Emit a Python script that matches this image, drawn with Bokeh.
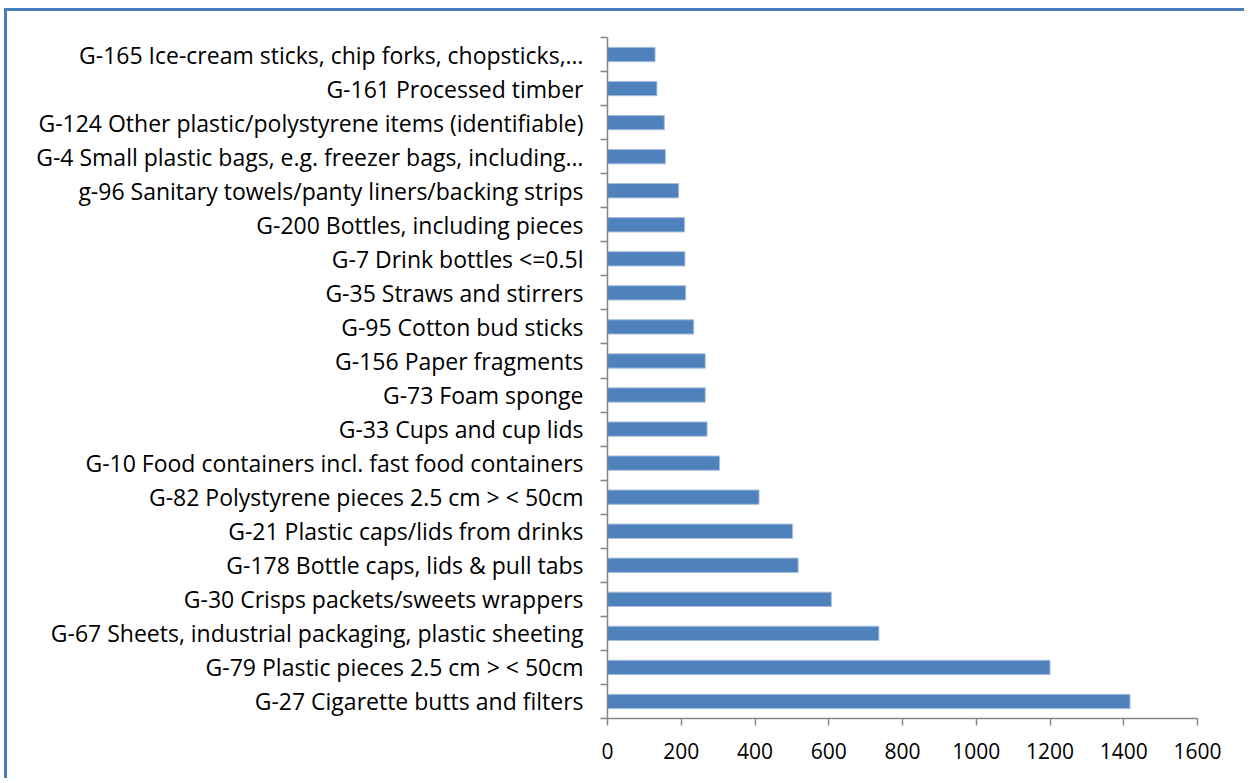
from bokeh.plotting import figure
from bokeh.models import Range1d, FixedTicker, ColumnDataSource
from bokeh.embed import file_html
from bokeh.resources import INLINE

# categories listed bottom to top
categories = [
    "G-27 Cigarette butts and filters",
    "G-79 Plastic pieces 2.5 cm > < 50cm",
    "G-67 Sheets, industrial packaging, plastic sheeting",
    "G-30 Crisps packets/sweets wrappers",
    "G-178 Bottle caps, lids & pull tabs",
    "G-21 Plastic caps/lids from drinks",
    "G-82 Polystyrene pieces 2.5 cm > < 50cm",
    "G-10 Food containers incl. fast food containers",
    "G-33 Cups and cup lids",
    "G-73 Foam sponge",
    "G-156 Paper fragments",
    "G-95 Cotton bud sticks",
    "G-35 Straws and stirrers",
    "G-7 Drink bottles <=0.5l",
    "G-200 Bottles, including pieces",
    "g-96 Sanitary towels/panty liners/backing strips",
    "G-4 Small plastic bags, e.g. freezer bags, including\u2026",
    "G-124 Other plastic/polystyrene items (identifiable)",
    "G-161 Processed timber",
    "G-165 Ice-cream sticks, chip forks, chopsticks,\u2026",
]
counts = [1417, 1200, 736, 607, 517, 502, 411, 304, 270, 265,
          265, 234, 212, 210, 209, 193, 157, 154, 134, 129]
x_ticks = [0, 200, 400, 600, 800, 1000, 1200, 1400, 1600]

positions = list(range(len(categories)))
source = ColumnDataSource(dict(y=positions, right=counts, name=categories))

FONT = "Open Sans"
AXIS_COLOR = "#868686"
BAR_COLOR = "#4f81bd"
BORDER_COLOR = "#4a7ebb"

p = figure(width=1240, height=770, output_backend="svg", toolbar_location=None,
           x_range=Range1d(0, 1600), y_range=Range1d(-0.5, len(categories) - 0.5),
           min_border_left=600, min_border_top=26, min_border_bottom=63,
           min_border_right=50, outline_line_color=None, margin=(8, 0, 0, 4))
p.styles = {"border-left": f"3px solid {BORDER_COLOR}",
            "border-top": f"3px solid {BORDER_COLOR}"}

p.hbar(y="y", left=0, right="right", height=0.42, source=source,
       fill_color=BAR_COLOR, line_color="#a7bfdd", line_width=1)

p.xgrid.visible = False
p.ygrid.visible = False

xa = p.xaxis[0]
xa.ticker = FixedTicker(ticks=x_ticks)
xa.axis_line_color = AXIS_COLOR
xa.axis_line_width = 1.5
xa.major_tick_line_color = AXIS_COLOR
xa.major_tick_line_width = 1.5
xa.major_tick_out = 7
xa.major_tick_in = 0
xa.minor_tick_line_color = None
xa.major_label_text_font = FONT
xa.major_label_text_font_size = "21px"
xa.major_label_text_color = "black"
xa.major_label_standoff = 17

ya = p.yaxis[0]
ya.ticker = FixedTicker(ticks=positions,
                        minor_ticks=[i - 0.5 for i in range(len(categories) + 1)])
ya.major_label_overrides = {i: c for i, c in zip(positions, categories)}
ya.axis_line_color = AXIS_COLOR
ya.axis_line_width = 1.5
ya.major_tick_line_color = None
ya.major_tick_out = 0
ya.major_tick_in = 0
ya.minor_tick_line_color = AXIS_COLOR
ya.minor_tick_line_width = 1.5
ya.minor_tick_out = 7
ya.minor_tick_in = 0
ya.major_label_text_font = FONT
ya.major_label_text_font_size = "23px"
ya.major_label_text_color = "black"
ya.major_label_standoff = 17

open("out.html", "w").write(file_html(p, INLINE))
